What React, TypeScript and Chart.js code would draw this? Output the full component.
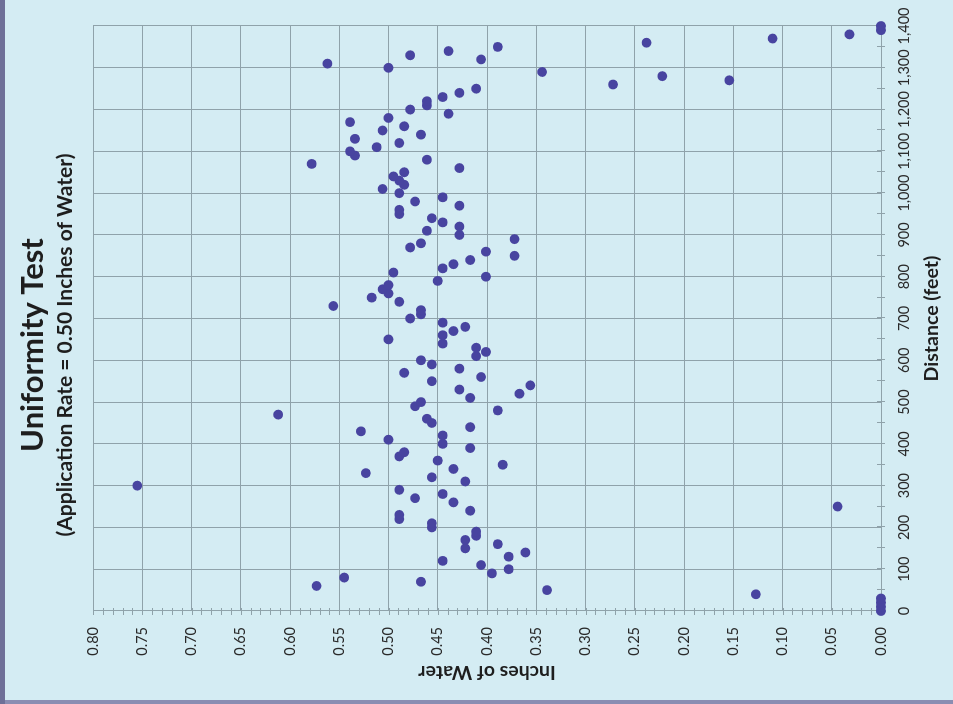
import React, { useEffect, useRef } from 'react';
import { Chart, registerables } from 'chart.js';

Chart.register(...registerables);

// Distance along the line (feet)
const distances = [
  0, 10, 20, 30, 40, 50, 60, 70, 80, 90,
  100, 110, 120, 130, 140, 150, 160, 170, 180, 190,
  200, 210, 220, 230, 240, 250, 260, 270, 280, 290,
  300, 310, 320, 330, 340, 350, 360, 370, 380, 390,
  400, 410, 420, 430, 440, 450, 460, 470, 480, 490,
  500, 510, 520, 530, 540, 550, 560, 570, 580, 590,
  600, 610, 620, 630, 640, 650, 660, 670, 680, 690,
  700, 710, 720, 730, 740, 750, 760, 770, 780, 790,
  800, 810, 820, 830, 840, 850, 860, 870, 880, 890,
  900, 910, 920, 930, 940, 950, 960, 970, 980, 990,
  1000, 1010, 1020, 1030, 1040, 1050, 1060, 1070, 1080, 1090,
  1100, 1110, 1120, 1130, 1140, 1150, 1160, 1170, 1180, 1190,
  1200, 1210, 1220, 1230, 1240, 1250, 1260, 1270, 1280, 1290,
  1300, 1310, 1320, 1330, 1340, 1350, 1360, 1370, 1380, 1390,
  1400,
];

// Inches of water caught at each distance
const waterInches = [
  0.0, 0.0, 0.0, 0.0, 0.127, 0.339, 0.573, 0.467, 0.545, 0.395,
  0.378, 0.406, 0.445, 0.378, 0.361, 0.422, 0.389, 0.422, 0.411, 0.411,
  0.456, 0.456, 0.489, 0.489, 0.417, 0.044, 0.434, 0.473, 0.445, 0.489,
  0.755, 0.422, 0.456, 0.523, 0.434, 0.384, 0.45, 0.489, 0.484, 0.417,
  0.445, 0.5, 0.445, 0.528, 0.417, 0.456, 0.461, 0.612, 0.389, 0.473,
  0.467, 0.417, 0.367, 0.428, 0.356, 0.456, 0.406, 0.484, 0.428, 0.456,
  0.467, 0.411, 0.401, 0.411, 0.445, 0.5, 0.445, 0.434, 0.422, 0.445,
  0.478, 0.467, 0.467, 0.556, 0.489, 0.517, 0.5, 0.506, 0.5, 0.45,
  0.401, 0.495, 0.445, 0.434, 0.417, 0.372, 0.401, 0.478, 0.467, 0.372,
  0.428, 0.461, 0.428, 0.445, 0.456, 0.489, 0.489, 0.428, 0.473, 0.445,
  0.489, 0.506, 0.484, 0.489, 0.495, 0.484, 0.428, 0.578, 0.461, 0.534,
  0.539, 0.512, 0.489, 0.534, 0.467, 0.506, 0.484, 0.539, 0.5, 0.439,
  0.478, 0.461, 0.461, 0.445, 0.428, 0.411, 0.272, 0.154, 0.222, 0.344,
  0.5, 0.562, 0.406, 0.478, 0.439, 0.389, 0.238, 0.11, 0.032, 0.0,
  0.0,
];

const titleText = 'Uniformity Test';
const subtitleText = '(Application Rate = 0.50 Inches of Water)';
const xAxisTitle = 'Distance (feet)';
const yAxisTitle = 'Inches of Water';

const FONT = 'Lato';
const BG = '#d4ecf3';
const GRID = '#8fa2aa';
const POINT = '#4844a0';
const TEXT = '#1e1e1e';
const TICK_TEXT = '#2a2a2a';

const bgPlugin = {
  id: 'bgFill',
  beforeDraw(chart: any) {
    const { ctx, width, height } = chart;
    ctx.save();
    ctx.fillStyle = BG;
    ctx.fillRect(0, 0, width, height);
    ctx.restore();
  },
};

const minorTicksPlugin = {
  id: 'minorTicks',
  beforeDatasetsDraw(chart: any) {
    const { ctx, chartArea, scales } = chart;
    const xs = scales.x;
    const ys = scales.y;
    ctx.save();
    ctx.strokeStyle = GRID;
    ctx.lineWidth = 1;
    ctx.beginPath();
    for (let v = xs.min; v <= xs.max; v += 50) {
      const px = Math.round(xs.getPixelForValue(v)) + 0.5;
      ctx.moveTo(px, chartArea.bottom - 4);
      ctx.lineTo(px, chartArea.bottom + 4);
    }
    for (let i = 0; i <= 80; i++) {
      const py = Math.round(ys.getPixelForValue(i / 100)) + 0.5;
      ctx.moveTo(chartArea.left - 4, py);
      ctx.lineTo(chartArea.left + 3, py);
    }
    ctx.stroke();
    ctx.restore();
  },
};

export default function App() {
  const ref = useRef<HTMLCanvasElement>(null);

  useEffect(() => {
    const canvas = ref.current;
    if (!canvas) return;
    const chart = new Chart(canvas, {
      type: 'scatter',
      data: {
        datasets: [
          {
            data: distances.map((d, i) => ({ x: d, y: waterInches[i] })),
            backgroundColor: POINT,
            borderColor: POINT,
            borderWidth: 0,
            pointRadius: 4.9,
            clip: false,
          },
        ],
      },
      options: {
        responsive: false,
        animation: false,
        devicePixelRatio: 1,
        layout: { padding: { top: 0, left: 36, right: 26, bottom: 0 } },
        plugins: {
          legend: { display: false },
          tooltip: { enabled: false },
          title: {
            display: true,
            text: titleText,
            color: TEXT,
            font: { family: FONT, size: 31, weight: 'bold' },
            padding: { top: 9.1, bottom: 0 },
          },
          subtitle: {
            display: true,
            text: subtitleText,
            color: TEXT,
            font: { family: FONT, size: 21, weight: 'bold' },
            padding: { top: 1.1, bottom: 15.4 },
          },
        },
        scales: {
          x: {
            type: 'linear',
            position: 'bottom',
            min: 0,
            max: 1400,
            afterFit: (s: any) => {
              s.height = 72;
              s.paddingRight = 0;
              s.paddingLeft = 0;
            },
            ticks: {
              stepSize: 100,
              padding: 15,
              maxRotation: 0,
              minRotation: 0,
              autoSkip: false,
              color: TICK_TEXT,
              font: { family: FONT, size: 14.5 },
              callback: (v: any) => Number(v).toLocaleString('en-US'),
            },
            grid: { color: GRID, drawTicks: false },
            border: { color: GRID },
            title: {
              display: true,
              text: xAxisTitle,
              color: TEXT,
              font: { family: FONT, size: 19.5, weight: 'bold' },
              padding: { top: 0, bottom: 9.8 },
            },
          },
          y: {
            type: 'linear',
            position: 'left',
            min: 0,
            max: 0.8,
            afterFit: (s: any) => {
              s.width = 53;
            },
            ticks: {
              stepSize: 0.05,
              padding: 16,
              color: TICK_TEXT,
              font: { family: FONT, size: 14.5 },
              callback: (v: any) => Number(v).toFixed(2),
            },
            grid: { color: GRID, drawTicks: false },
            border: { color: GRID },
            title: {
              display: true,
              text: yAxisTitle,
              color: TEXT,
              font: { family: FONT, size: 19.5, weight: 'bold' },
              padding: { top: -19.7, bottom: 0 },
            },
          },
        },
      },
      plugins: [bgPlugin, minorTicksPlugin],
    } as any);
    return () => chart.destroy();
  }, []);

  return (
    <div
      style={{
        position: 'fixed',
        left: 0,
        top: 0,
        width: 953,
        height: 704,
        background: '#8a8db2',
        overflow: 'hidden',
      }}
    >
      <div
        style={{
          position: 'absolute',
          left: 0,
          top: 0,
          width: 5,
          height: 704,
          background: '#6e7098',
        }}
      />
      <div
        style={{
          position: 'absolute',
          left: 0,
          top: 0,
          width: 700,
          height: 948,
          transformOrigin: '0 0',
          transform: 'translate(5px, 700px) rotate(-90deg)',
        }}
      >
        <canvas ref={ref} width={700} height={948} style={{ display: 'block' }} />
      </div>
    </div>
  );
}
